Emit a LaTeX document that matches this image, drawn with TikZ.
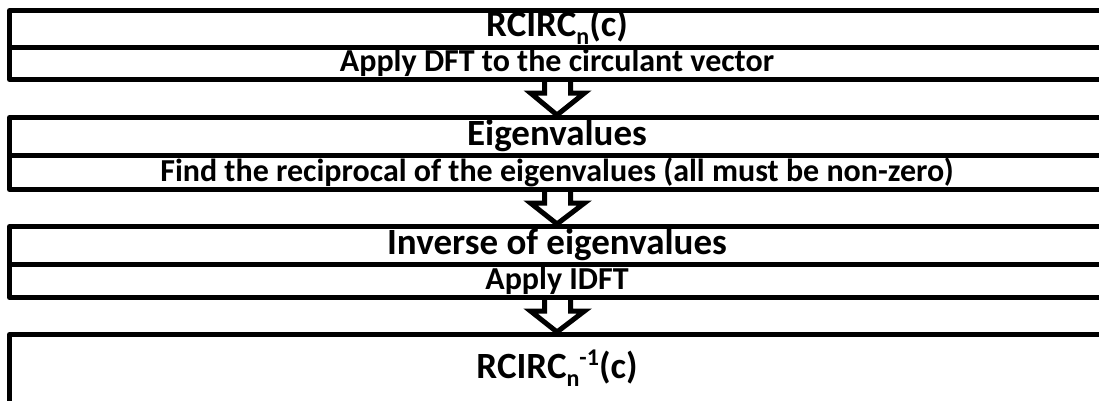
\documentclass[tikz,border=0pt]{standalone}
\usepackage{fontspec}
\setmainfont{Carlito}
\usetikzlibrary{calc}
\newcommand{\subn}{\raisebox{-0.45ex}{\fontsize{24}{24}\selectfont n}}
\newcommand{\supm}{\raisebox{0.75ex}{\fontsize{24}{24}\selectfont -1}}
\tikzset{
  rowbox/.style={draw=black, line width=5pt, line join=round, minimum width=1095pt, inner sep=0pt, font=\bfseries},
  big/.style={font=\fontsize{37}{38}\selectfont\bfseries},
  small/.style={font=\fontsize{32}{33}\selectfont\bfseries},
  blockarrow/.style={draw=black, line width=5pt, line join=miter, fill=white}
}
\begin{document}
\begin{tikzpicture}[x=1pt,y=-1pt]
\useasboundingbox (0,0) rectangle (1099,400);
\clip (0,0) rectangle (1099,400);
% box 1
\node[rowbox, big, minimum height=37pt] (t1) at (557,29) {};
\node[big] (t1txt) at (557,27) {RCIRC\subn(c)};
\node[rowbox, small, minimum height=32pt] (s1) at (557,63.5) {};
\node[small] (s1txt) at (557,63) {Apply DFT to the circulant vector};
% box 2
\node[rowbox, big, minimum height=38pt] (t2) at (557,136.5) {};
\node[big] (t2txt) at (557,136) {Eigenvalues};
\node[rowbox, small, minimum height=34pt] (s2) at (557,172.5) {};
\node[small] (s2txt) at (557,172) {Find the reciprocal of the eigenvalues (all must be non-zero)};
% box 3
\node[rowbox, big, minimum height=38pt] (t3) at (557,245.5) {};
\node[big] (t3txt) at (557,245) {Inverse of eigenvalues};
\node[rowbox, small, minimum height=33pt] (s3) at (557,281) {};
\node[small] (s3txt) at (557,280.5) {Apply IDFT};
% box 4
\node[rowbox, big, minimum height=70pt] (t4) at (557,369.5) {};
\node[big] (t4txt) at (557,368) {RCIRC\subn\supm(c)};
% arrows
\foreach \a/\b in {s1/t2, s2/t3, s3/t4}{
  \draw[blockarrow] ($(\a.south)+(-12.5,0)$) -- ($(\a.south)+(-12.5,11)$) -- ($(\a.south)+(-26.5,11)$)
     -- (\b.north) -- ($(\a.south)+(27.5,11)$) -- ($(\a.south)+(13.5,11)$) -- ($(\a.south)+(13.5,0)$);
}
\end{tikzpicture}
\end{document}
